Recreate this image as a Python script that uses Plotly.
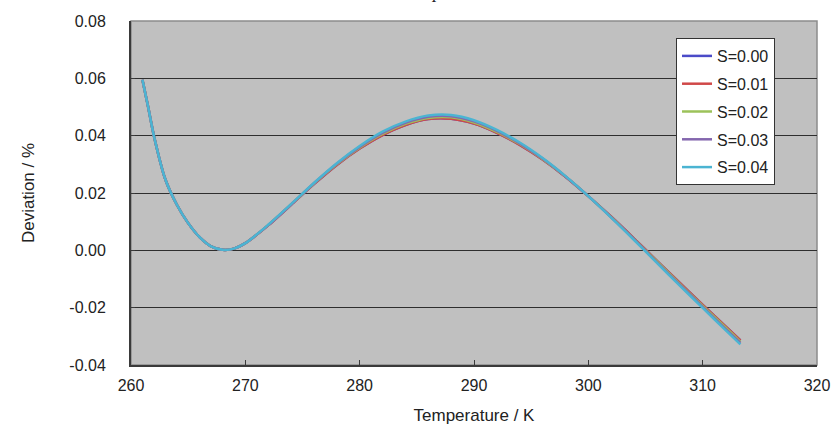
import plotly.graph_objects as go

# Temperature / K
temperature = [261.0, 261.5, 262, 263, 264, 265, 266, 267, 268, 269, 270, 272, 274, 276, 278, 280,
               282, 284, 286, 288, 290, 292, 294, 296, 298, 300, 302, 304, 306, 308, 310, 312, 313.3]

dev_s000 = [0.0595, 0.0500, 0.0400, 0.0248, 0.0160, 0.0095, 0.0046, 0.0014, 0.0002, 0.0006, 0.0025,
            0.0087, 0.0159, 0.0231, 0.0298, 0.0355, 0.0402, 0.0437, 0.0458, 0.0459, 0.0442, 0.0410,
            0.0368, 0.0317, 0.0257, 0.0189, 0.0117, 0.0041, -0.0037, -0.0114, -0.0190, -0.0265, -0.0314]
dev_s001 = [0.0595, 0.0500, 0.0400, 0.0248, 0.0160, 0.0095, 0.0046, 0.0014, 0.0002, 0.0006, 0.0025,
            0.0087, 0.0159, 0.0231, 0.0298, 0.0355, 0.0402, 0.0437, 0.0458, 0.0459, 0.0442, 0.0410,
            0.0368, 0.0317, 0.0257, 0.0189, 0.0117, 0.0041, -0.0037, -0.0114, -0.0190, -0.0265, -0.0314]
dev_s002 = [0.0595, 0.0500, 0.0400, 0.0248, 0.0160, 0.0095, 0.0046, 0.0014, 0.0002, 0.0006, 0.0025,
            0.0088, 0.0160, 0.0233, 0.0300, 0.0358, 0.0406, 0.0441, 0.0462, 0.0464, 0.0446, 0.0413,
            0.0371, 0.0319, 0.0258, 0.0189, 0.0116, 0.0039, -0.0039, -0.0117, -0.0194, -0.0269, -0.0319]
dev_s003 = [0.0595, 0.0500, 0.0400, 0.0248, 0.0160, 0.0095, 0.0046, 0.0014, 0.0002, 0.0006, 0.0025,
            0.0088, 0.0160, 0.0234, 0.0302, 0.0361, 0.0410, 0.0445, 0.0466, 0.0468, 0.0450, 0.0417,
            0.0373, 0.0320, 0.0258, 0.0189, 0.0115, 0.0038, -0.0042, -0.0120, -0.0197, -0.0274, -0.0323]
dev_s004 = [0.0595, 0.0500, 0.0400, 0.0248, 0.0160, 0.0095, 0.0046, 0.0014, 0.0002, 0.0006, 0.0025,
            0.0089, 0.0161, 0.0235, 0.0304, 0.0364, 0.0414, 0.0449, 0.0470, 0.0472, 0.0454, 0.0420,
            0.0376, 0.0322, 0.0259, 0.0189, 0.0114, 0.0036, -0.0044, -0.0123, -0.0201, -0.0278, -0.0328]

series_names = ["S=0.00", "S=0.01", "S=0.02", "S=0.03", "S=0.04"]
series_values = [dev_s000, dev_s001, dev_s002, dev_s003, dev_s004]
series_colors = ["#4B4BC8", "#D04848", "#9CC25A", "#8466AE", "#4BB4D2"]

x_ticks = [260, 270, 280, 290, 300, 310, 320]
y_ticks = [-0.04, -0.02, 0.00, 0.02, 0.04, 0.06, 0.08]

FONT = "Liberation Sans, Arial, sans-serif"

fig = go.Figure()
for i, (name, vals, col) in enumerate(zip(series_names, series_values, series_colors)):
    fig.add_trace(go.Scatter(
        x=temperature, y=vals, name=name, mode="lines",
        line=dict(color=col, width=2.5, shape="spline", smoothing=0.8),
        legendgroup=f"g{i}",
    ))

fig.update_layout(
    width=832, height=427,
    margin=dict(l=131, r=15, t=21, b=62),
    paper_bgcolor="white",
    plot_bgcolor="#C0C0C0",
    font=dict(family=FONT, size=16, color="#222222"),
    showlegend=True,
    legend=dict(
        x=0.7945, y=0.9506, xanchor="left", yanchor="top",
        bgcolor="white", bordercolor="#333333", borderwidth=1,
        font=dict(family=FONT, size=16, color="#222222"),
        traceorder="grouped", tracegroupgap=4,
        itemwidth=30,
    ),
    xaxis=dict(
        range=[260, 320], tickvals=x_ticks, ticktext=[str(v) for v in x_ticks],
        showgrid=False, zeroline=False, automargin=False,
        showline=True, linecolor="#3A3A3A", linewidth=2,
        ticks="inside", ticklen=5, tickcolor="#3A3A3A", tickwidth=1,
        ticklabelstandoff=5,
        tickfont=dict(family=FONT, size=16, color="#222222"),
        title=dict(text="Temperature / K", font=dict(family=FONT, size=17, color="#222222"), standoff=16),
    ),
    yaxis=dict(
        range=[-0.04, 0.08], tickvals=y_ticks, ticktext=[f"{v:.2f}" for v in y_ticks],
        showgrid=True, gridcolor="#2E2E2E", gridwidth=1, zeroline=False, automargin=False,
        showline=True, linecolor="#3A3A3A", linewidth=2,
        ticks="inside", ticklen=4, tickcolor="#3A3A3A", tickwidth=1,
        ticklabelstandoff=20,
        tickfont=dict(family=FONT, size=16, color="#222222"),
        title=dict(text="Deviation / %", font=dict(family=FONT, size=17, color="#222222"), standoff=30),
    ),
    shapes=[dict(type="rect", xref="paper", yref="paper", x0=0, y0=0, x1=1, y1=1,
                 line=dict(color="#8C8C8C", width=1.5), layer="below")],
    annotations=[dict(text="<i>p</i>", xref="paper", yref="paper", x=0.446, y=1.05,
                      xanchor="center", yanchor="bottom", showarrow=False,
                      font=dict(family="Liberation Serif, serif", size=18, color="#222222"))],
)

fig.write_html("out.html")
